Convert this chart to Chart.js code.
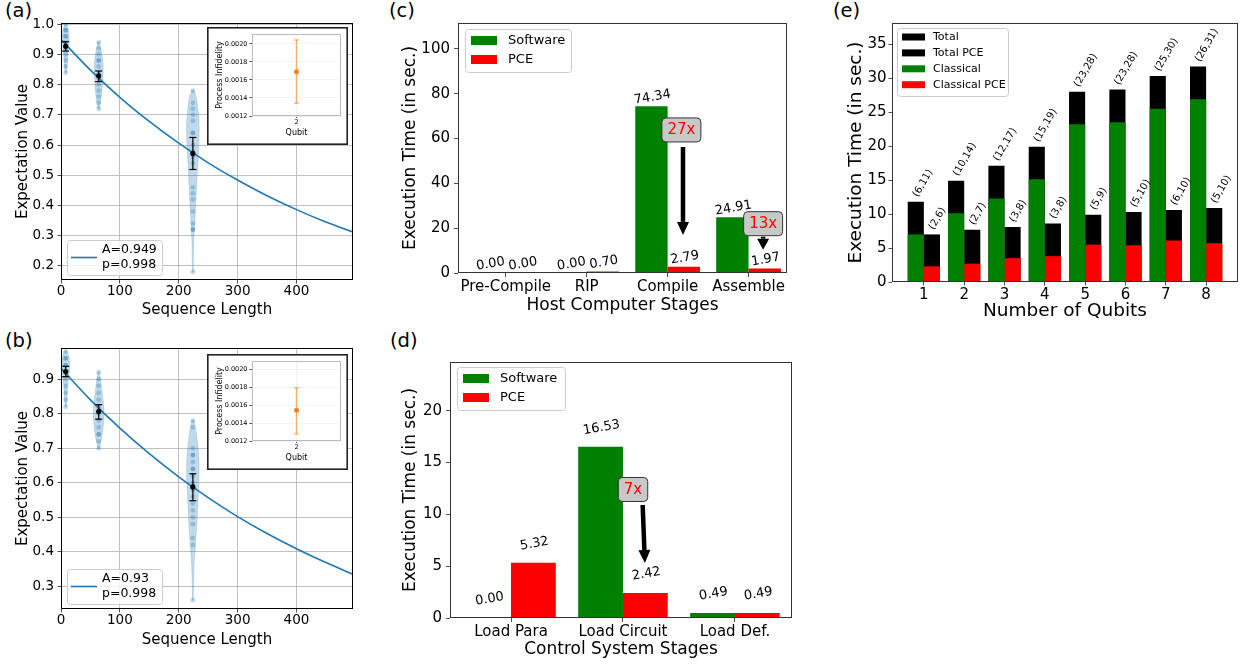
<!DOCTYPE html>
<html>
<head>
<meta charset="utf-8">
<title>RB benchmarks and PCE execution times</title>
<script src="https://cdn.jsdelivr.net/npm/chart.js@4.4.1/dist/chart.umd.min.js"></script>
<style>
  html, body { margin: 0; padding: 0; background: #fff; }
  body { position: relative; width: 1244px; height: 666px; overflow: hidden; font-family: 'DejaVu Sans', sans-serif; }
  canvas { position: absolute; }
  .inset { background: #fff; }
  .tag { position: absolute; font-size: 19.5px; line-height: 1; color: #000; }
</style>
</head>
<body>
<div class="tag" style="left:5px;top:1px">(a)</div>
<div class="tag" style="left:5px;top:331px">(b)</div>
<div class="tag" style="left:389px;top:1px">(c)</div>
<div class="tag" style="left:390px;top:331px">(d)</div>
<div class="tag" style="left:833px;top:1px">(e)</div>

<canvas id="chartA" width="360" height="320" style="left:0;top:0"></canvas>
<canvas id="chartB" width="360" height="320" style="left:0;top:330px"></canvas>
<canvas id="insetA" class="inset" width="141" height="118" style="left:207px;top:27px"></canvas>
<canvas id="insetB" class="inset" width="141" height="116" style="left:207px;top:354px"></canvas>
<canvas id="chartC" width="395" height="320" style="left:400px;top:0"></canvas>
<canvas id="chartD" width="400" height="336" style="left:400px;top:330px"></canvas>
<canvas id="chartE" width="404" height="325" style="left:840px;top:0"></canvas>

<script>
// ---- (a) / (b): randomized benchmarking ----
const seqLengths = [8, 64, 224];
const fitX = [0, 50, 100, 150, 200, 250, 300, 350, 400, 450, 496];
const fitA = [0.949, 0.848, 0.758, 0.678, 0.606, 0.541, 0.484, 0.432, 0.386, 0.345, 0.312];
const fitB = [0.931, 0.840, 0.758, 0.684, 0.617, 0.557, 0.502, 0.453, 0.409, 0.369, 0.335];

const meanA = [0.927, 0.829, 0.572];
const lowA = [0.911, 0.810, 0.519];
const highA = [0.942, 0.845, 0.625];
const meanB = [0.922, 0.806, 0.588];
const lowB = [0.907, 0.784, 0.548];
const highB = [0.937, 0.826, 0.626];

const samplesA = [
  [1.00, 0.98, 0.98, 0.96, 0.96, 0.94, 0.92, 0.90, 0.88, 0.86, 0.84],
  [0.94, 0.92, 0.90, 0.88, 0.88, 0.86, 0.84, 0.82, 0.80, 0.78, 0.76, 0.74, 0.72],
  [0.78, 0.74, 0.72, 0.70, 0.68, 0.64, 0.64, 0.60, 0.58, 0.56, 0.54, 0.46, 0.44, 0.42, 0.38, 0.34, 0.32, 0.32, 0.18]
];
const samplesB = [
  [0.98, 0.96, 0.96, 0.94, 0.94, 0.92, 0.90, 0.88, 0.86, 0.84, 0.82],
  [0.92, 0.90, 0.88, 0.86, 0.84, 0.82, 0.80, 0.78, 0.76, 0.74, 0.74, 0.72, 0.70],
  [0.78, 0.76, 0.70, 0.68, 0.68, 0.66, 0.64, 0.64, 0.62, 0.60, 0.58, 0.56, 0.54, 0.52, 0.50, 0.48, 0.44, 0.42, 0.26]
];

// violin outlines: levels and half widths (in sequence-length units)
const violinLevelsA = [
  [0.84, 0.86, 0.88, 0.90, 0.92, 0.94, 0.96, 0.98, 1.00],
  [0.72, 0.74, 0.76, 0.78, 0.80, 0.82, 0.84, 0.86, 0.88, 0.90, 0.92, 0.94],
  [0.18, 0.22, 0.26, 0.30, 0.34, 0.38, 0.42, 0.46, 0.50, 0.54, 0.58, 0.62, 0.66, 0.70, 0.74, 0.76, 0.78]
];
const violinWidthsA = [
  [0.8, 2.0, 2.8, 3.5, 4.3, 5.2, 5.6, 4.8, 1.5],
  [1.0, 3.0, 4.5, 5.5, 6.5, 7.3, 7.6, 7.6, 7.0, 5.5, 3.5, 1.2],
  [0.6, 0.9, 1.2, 2.0, 3.3, 4.3, 5.3, 6.3, 7.3, 8.3, 9.4, 10.4, 10.6, 9.6, 7.4, 5.4, 1.8]
];
const violinLevelsB = [
  [0.82, 0.84, 0.86, 0.88, 0.90, 0.92, 0.94, 0.96, 0.98],
  [0.70, 0.72, 0.74, 0.76, 0.78, 0.80, 0.82, 0.84, 0.86, 0.88, 0.90, 0.92],
  [0.26, 0.30, 0.34, 0.38, 0.42, 0.46, 0.50, 0.54, 0.58, 0.62, 0.66, 0.70, 0.74, 0.78]
];
const violinWidthsB = [
  [0.8, 1.8, 2.5, 3.2, 4.5, 6.0, 6.8, 6.2, 2.5],
  [1.2, 3.8, 6.0, 7.5, 8.5, 9.0, 8.6, 7.5, 6.0, 4.5, 3.0, 1.2],
  [0.6, 1.0, 1.6, 2.6, 4.4, 6.0, 7.4, 8.5, 9.5, 10.4, 10.4, 9.0, 6.0, 1.8]
];

const seqTicks = [0, 100, 200, 300, 400];
const expTicksA = [0.2, 0.3, 0.4, 0.5, 0.6, 0.7, 0.8, 0.9, 1.0];
const expTicksB = [0.3, 0.4, 0.5, 0.6, 0.7, 0.8, 0.9];

// insets: process infidelity of qubit 2
const insetQubit = 2;
const infidelityA = { mean: 0.001692, low: 0.001341, high: 0.002044 };
const infidelityB = { mean: 0.001541, low: 0.001278, high: 0.001792 };
const infTicks = [0.0012, 0.0014, 0.0016, 0.0018, 0.0020];

// ---- (c) host computer stages ----
const hostStages = ['Pre-Compile', 'RIP', 'Compile', 'Assemble'];
const hostSoftware = [0.00, 0.00, 74.34, 24.91];
const hostPCE = [0.00, 0.70, 2.79, 1.97];
const hostTicks = [0, 20, 40, 60, 80, 100];

// ---- (d) control system stages ----
const ctrlStages = ['Load Para', 'Load Circuit', 'Load Def.'];
const ctrlSoftware = [0.00, 16.53, 0.49];
const ctrlPCE = [5.32, 2.42, 0.49];
const ctrlTicks = [0, 5, 10, 15, 20];

// ---- (e) number of qubits ----
const qubits = [1, 2, 3, 4, 5, 6, 7, 8];
const totalTime = [11.8, 14.9, 17.1, 19.9, 28.0, 28.3, 30.3, 31.7];
const classicalTime = [7.0, 10.1, 12.3, 15.1, 23.2, 23.5, 25.5, 26.9];
const totalPCETime = [7.0, 7.7, 8.1, 8.6, 9.9, 10.3, 10.6, 10.9];
const classicalPCETime = [2.3, 2.7, 3.5, 3.8, 5.5, 5.4, 6.1, 5.7];
const totalTags = ['(6,11)', '(10,14)', '(12,17)', '(15,19)', '(23,28)', '(23,28)', '(25,30)', '(26,31)'];
const pceTags = ['(2,6)', '(2,7)', '(3,8)', '(3,8)', '(5,9)', '(5,10)', '(6,10)', '(5,10)'];
const qubitTicks = [0, 5, 10, 15, 20, 25, 30, 35];

Chart.defaults.font.family = "'DejaVu Sans', sans-serif";
Chart.defaults.color = '#000';
Chart.defaults.animation = false;
Chart.defaults.responsive = false;
Chart.defaults.events = [];
Chart.defaults.plugins.legend.display = false;
Chart.defaults.plugins.tooltip.enabled = false;

const FONT = "'DejaVu Sans', sans-serif";

function axis(o) {
  return {
    type: 'linear', min: o.min, max: o.max, offset: false, stacked: o.stacked || false,
    afterBuildTicks: s => { s.ticks = o.ticks.map(v => ({ value: v })); },
    afterFit: s => { if (s.isHorizontal()) s.height = o.size; else s.width = o.size; },
    grid: { drawOnChartArea: !!o.grid, color: o.grid || '#b0b0b0', lineWidth: 0.8, tickColor: '#222', tickLength: o.tick, offset: false },
    border: { display: false },
    ticks: { autoSkip: false, maxRotation: 0, padding: o.pad, font: { size: o.font }, callback: o.fmt },
    title: { display: true, text: o.title, font: { size: o.titleFont }, padding: o.titlePad }
  };
}

function framePlugin(color, outer) {
  return {
    id: 'frame',
    afterDatasetsDraw(chart) {
      const { ctx, chartArea: a } = chart;
      ctx.save();
      ctx.strokeStyle = color;
      ctx.lineWidth = 1;
      ctx.strokeRect(a.left + 0.5, a.top + 0.5, a.right - a.left - 1, a.bottom - a.top - 1);
      ctx.restore();
    },
    afterDraw(chart) {
      if (!outer) return;
      const { ctx, width, height } = chart;
      ctx.save();
      ctx.strokeStyle = '#222';
      ctx.lineWidth = 1.6;
      ctx.strokeRect(0.8, 0.8, width - 1.6, height - 1.6);
      ctx.restore();
    }
  };
}

function legendPlugin(L) {
  return {
    id: 'boxLegend',
    afterDraw(chart) {
      const { ctx, chartArea: a } = chart;
      const x0 = a.left + L.left;
      const y0 = L.bottom !== undefined ? a.bottom - L.bottom - L.h : a.top + L.top;
      ctx.save();
      ctx.beginPath();
      ctx.roundRect(x0 + 0.5, y0 + 0.5, L.w, L.h, 3);
      ctx.fillStyle = 'rgba(255,255,255,0.8)';
      ctx.fill();
      ctx.strokeStyle = '#cccccc';
      ctx.lineWidth = 1;
      ctx.stroke();
      ctx.font = L.font + 'px ' + FONT;
      ctx.textBaseline = 'middle';
      ctx.textAlign = 'left';
      L.items.forEach((di, k) => {
        const ds = chart.data.datasets[di];
        const cy = y0 + L.row0 + k * L.rowH;
        if (L.sample === 'line') {
          ctx.strokeStyle = ds.borderColor;
          ctx.lineWidth = ds.borderWidth;
          ctx.beginPath();
          ctx.moveTo(x0 + L.sx, cy);
          ctx.lineTo(x0 + L.sx + L.sw, cy);
          ctx.stroke();
        } else {
          ctx.fillStyle = ds.backgroundColor;
          ctx.fillRect(x0 + L.sx, cy - L.sh / 2, L.sw, L.sh);
        }
        ctx.fillStyle = '#000';
        const lines = ds.label.split('\n');
        lines.forEach((t, j) => ctx.fillText(t, x0 + L.tx, cy + (j - (lines.length - 1) / 2) * (L.gap || 0)));
      });
      ctx.restore();
    }
  };
}

function labelPlugin(sets, st) {
  return {
    id: 'barLabels',
    afterDatasetsDraw(chart) {
      const ctx = chart.ctx;
      ctx.save();
      ctx.font = st.font + 'px ' + FONT;
      ctx.fillStyle = '#000';
      ctx.textAlign = st.align;
      ctx.textBaseline = st.baseline;
      sets.forEach(s => {
        chart.getDatasetMeta(s.ds).data.forEach((bar, i) => {
          ctx.save();
          ctx.translate(bar.x + st.dx, bar.y - st.dy);
          ctx.rotate(-st.angle * Math.PI / 180);
          ctx.fillText(s.text[i], 0, 0);
          ctx.restore();
        });
      });
      ctx.restore();
    }
  };
}

function notePlugin(n) {
  return {
    id: 'notes',
    afterDatasetsDraw(chart) {
      const { ctx, scales: { x, y } } = chart;
      ctx.save();
      n.arrows.forEach(a => {
        const x1 = x.getPixelForValue(a.from[0]), y1 = y.getPixelForValue(a.from[1]);
        const x2 = x.getPixelForValue(a.to[0]), y2 = y.getPixelForValue(a.to[1]);
        const len = Math.hypot(x2 - x1, y2 - y1);
        const ux = (x2 - x1) / len, uy = (y2 - y1) / len;
        const hl = Math.min(13, len * 0.85), hw = 6;
        const bx = x2 - ux * hl, by = y2 - uy * hl;
        ctx.strokeStyle = '#000';
        ctx.lineWidth = 4.5;
        ctx.beginPath();
        ctx.moveTo(x1, y1);
        ctx.lineTo(bx, by);
        ctx.stroke();
        ctx.fillStyle = '#000';
        ctx.beginPath();
        ctx.moveTo(x2, y2);
        ctx.lineTo(bx - uy * hw, by + ux * hw);
        ctx.lineTo(bx + uy * hw, by - ux * hw);
        ctx.closePath();
        ctx.fill();
      });
      ctx.font = '15px ' + FONT;
      ctx.textAlign = 'center';
      ctx.textBaseline = 'middle';
      n.boxes.forEach(b => {
        const cx = x.getPixelForValue(b.at[0]), cy = y.getPixelForValue(b.at[1]);
        const w = ctx.measureText(b.text).width + 11, h = 24;
        ctx.beginPath();
        ctx.roundRect(cx - w / 2, cy - h / 2, w, h, 4);
        ctx.fillStyle = '#c8c8c8';
        ctx.fill();
        ctx.strokeStyle = '#333';
        ctx.lineWidth = 1;
        ctx.stroke();
        ctx.fillStyle = '#ff0000';
        ctx.fillText(b.text, cx, cy + 0.5);
      });
      ctx.restore();
    }
  };
}

function violinPoints(c, levels, widths) {
  const right = levels.map((v, i) => ({ x: c + widths[i], y: v }));
  const left = levels.map((v, i) => ({ x: c - widths[i], y: v })).reverse();
  return [{ x: c, y: levels[0] }, ...right, { x: c, y: levels[levels.length - 1] }, ...left];
}

function errorBarPoints(xs, lo, hi) {
  const pts = [];
  xs.forEach((x, i) => pts.push({ x, y: lo[i] }, { x, y: hi[i] }, { x, y: null }));
  return pts;
}

function rbChart(id, d) {
  const datasets = [];
  seqLengths.forEach((c, g) => {
    datasets.push({
      type: 'line', data: violinPoints(c, d.levels[g], d.widths[g]), fill: 'shape',
      backgroundColor: 'rgba(31,119,180,0.28)', borderColor: 'rgba(31,119,180,0.3)', borderWidth: 0.6,
      pointRadius: 0, tension: 0.3, order: 5
    });
    datasets.push({
      type: 'scatter', data: d.samples[g].map(v => ({ x: c, y: v })),
      backgroundColor: 'rgba(31,119,180,0.3)', borderWidth: 0, pointRadius: 2.4, order: 4
    });
  });
  datasets.push({
    type: 'line', label: d.label, data: fitX.map((x, i) => ({ x, y: d.fit[i] })),
    borderColor: '#1f77b4', borderWidth: 1.6, pointRadius: 0, cubicInterpolationMode: 'monotone', fill: false, order: 3
  });
  const fitIndex = datasets.length - 1;
  datasets.push({
    type: 'line', data: errorBarPoints(seqLengths, d.low, d.high), borderColor: '#000', borderWidth: 1.2,
    pointStyle: 'line', pointRadius: 3.5, pointBorderColor: '#000', pointBorderWidth: 1.2, fill: false, order: 1
  });
  datasets.push({
    type: 'scatter', data: seqLengths.map((x, i) => ({ x, y: d.mean[i] })),
    backgroundColor: '#000', borderWidth: 0, pointRadius: 2.6, order: 0
  });

  return new Chart(document.getElementById(id), {
    type: 'scatter',
    data: { datasets },
    options: {
      layout: { padding: { top: d.padTop, right: 7, left: 0, bottom: 0 } },
      scales: {
        x: axis({ min: 0, max: 496, ticks: seqTicks, size: d.xSize, grid: '#b0b0b0', tick: 3.5, pad: 0, font: 13.5,
          fmt: v => String(v), title: 'Sequence Length', titleFont: 15, titlePad: { top: 0, bottom: 1.3 } }),
        y: axis({ min: d.yMin, max: d.yMax, ticks: d.yTicks, size: 61, grid: '#b0b0b0', tick: 3.5, pad: 3.5, font: 13.5,
          fmt: v => v.toFixed(1), title: 'Expectation Value', titleFont: 15, titlePad: { top: 13.9, bottom: 0 } })
      }
    },
    plugins: [
      framePlugin('#000', false),
      legendPlugin({ items: [fitIndex], left: 6, bottom: 5, w: 95, h: 35, row0: 17.5, rowH: 0, sample: 'line',
        sx: 4, sw: 26, tx: 35, font: 12.5, gap: 15 })
    ]
  });
}

function insetChart(id, v, yMax) {
  return new Chart(document.getElementById(id), {
    type: 'scatter',
    data: {
      datasets: [
        { type: 'line', data: [{ x: insetQubit, y: v.low }, { x: insetQubit, y: v.high }],
          borderColor: 'rgba(255,127,14,0.6)', borderWidth: 1.5, pointStyle: 'line', pointRadius: 2.5,
          pointBorderColor: 'rgba(255,127,14,0.6)', pointBorderWidth: 1.2, fill: false, order: 1 },
        { data: [{ x: insetQubit, y: v.mean }], backgroundColor: '#ff7f0e', borderWidth: 0, pointRadius: 2.5, order: 0 }
      ]
    },
    options: {
      layout: { padding: { top: 7, right: 7, left: 0, bottom: 0 } },
      scales: {
        x: axis({ min: 1, max: 3, ticks: [insetQubit], size: 29, grid: '#f0f0f0', tick: 2, pad: 0, font: 6.5,
          fmt: v => String(v), title: 'Qubit', titleFont: 8, titlePad: { top: 0, bottom: 6.9 } }),
        y: axis({ min: 0.0012, max: yMax, ticks: infTicks, size: 45, grid: '#f0f0f0', tick: 2.5, pad: 2, font: 6.5,
          fmt: v => v.toFixed(4), title: 'Process Infidelity', titleFont: 8, titlePad: { top: 8, bottom: 0 } })
      }
    },
    plugins: [framePlugin('#bbbbbb', true)]
  });
}

function xy(xs, ys) { return xs.map((x, i) => ({ x, y: ys[i] })); }

function stageChart(id, d) {
  const idx = d.stages.map((_, i) => i);
  return new Chart(document.getElementById(id), {
    type: 'bar',
    data: {
      datasets: [
        { label: 'Software', data: xy(idx, d.software), backgroundColor: '#008000' },
        { label: 'PCE', data: xy(idx, d.pce), backgroundColor: '#ff0000' }
      ]
    },
    options: {
      layout: { padding: { top: d.padTop, right: 8, left: 0, bottom: 0 } },
      datasets: { bar: { categoryPercentage: 0.8, barPercentage: 1 } },
      scales: {
        x: axis({ min: d.xMin, max: d.xMax, ticks: idx, size: d.xSize, tick: 4, pad: d.xPad, font: 15,
          fmt: v => d.stages[v] ?? '', title: d.title, titleFont: 17, titlePad: { top: 0, bottom: d.titlePad } }),
        y: axis({ min: 0, max: d.yMax, ticks: d.yTicks, size: d.ySize, tick: 4, pad: 4, font: 15,
          fmt: v => String(v), title: 'Execution Time (in sec.)', titleFont: 17, titlePad: { top: 0, bottom: 0 } })
      }
    },
    plugins: [
      framePlugin('#333', false),
      labelPlugin([
        { ds: 0, text: d.software.map(v => v.toFixed(2)) },
        { ds: 1, text: d.pce.map(v => v.toFixed(2)) }
      ], { font: 13, angle: 10, align: 'center', baseline: 'middle', dx: 1, dy: d.labelDy }),
      notePlugin(d.notes),
      legendPlugin({ items: [0, 1], left: 7, top: d.legTop, w: d.legW, h: 43, row0: 11.5, rowH: 19, sample: 'box',
        sx: 6, sw: 26, sh: 9, tx: 43, font: 13 })
    ]
  });
}

rbChart('chartA', {
  label: 'A=0.949\np=0.998', fit: fitA, mean: meanA, low: lowA, high: highA, samples: samplesA,
  levels: violinLevelsA, widths: violinWidthsA, yMin: 0.153, yMax: 1.004, yTicks: expTicksA, padTop: 23, xSize: 40
});
rbChart('chartB', {
  label: 'A=0.93\np=0.998', fit: fitB, mean: meanB, low: lowB, high: highB, samples: samplesB,
  levels: violinLevelsB, widths: violinWidthsB, yMin: 0.2346, yMax: 0.99, yTicks: expTicksB, padTop: 18, xSize: 41
});
insetChart('insetA', infidelityA, 0.00211);
insetChart('insetB', infidelityB, 0.00209);

stageChart('chartC', {
  stages: hostStages, software: hostSoftware, pce: hostPCE, yTicks: hostTicks, yMax: 111.5,
  xMin: -0.59, xMax: 3.475, padTop: 23, xSize: 47, ySize: 58, xPad: 1.5, titlePad: 4,
  title: 'Host Computer Stages', labelDy: 9, legTop: 6, legW: 106,
  notes: {
    boxes: [{ text: '27x', at: [2.17, 63.8] }, { text: '13x', at: [3.18, 22.0] }],
    arrows: [{ from: [2.19, 56.2], to: [2.19, 17.0] }, { from: [3.18, 16.2], to: [3.18, 10.4] }]
  }
});
stageChart('chartD', {
  stages: ctrlStages, software: ctrlSoftware, pce: ctrlPCE, yTicks: ctrlTicks, yMax: 24.7,
  xMin: -0.545, xMax: 2.51, padTop: 32, xSize: 48, ySize: 50, xPad: 1, titlePad: 6,
  title: 'Control System Stages', labelDy: 19, legTop: 5, legW: 108,
  notes: {
    boxes: [{ text: '7x', at: [1.09, 12.4] }],
    arrows: [{ from: [1.176, 10.9], to: [1.196, 5.3] }]
  }
});

new Chart(document.getElementById('chartE'), {
  type: 'bar',
  data: {
    datasets: [
      { label: 'Total', data: xy(qubits, totalTime), backgroundColor: '#000000', stack: 'classic', order: 2 },
      { label: 'Total PCE', data: xy(qubits, totalPCETime), backgroundColor: '#000000', stack: 'pce', order: 2 },
      { label: 'Classical', data: xy(qubits, classicalTime), backgroundColor: '#008000', stack: 'classic', order: 1 },
      { label: 'Classical PCE', data: xy(qubits, classicalPCETime), backgroundColor: '#ff0000', stack: 'pce', order: 1 }
    ]
  },
  options: {
    layout: { padding: { top: 23, right: 6, left: 0, bottom: 0 } },
    datasets: { bar: { categoryPercentage: 0.8, barPercentage: 1 } },
    scales: {
      x: axis({ min: 0.21, max: 8.79, ticks: qubits, size: 43, tick: 3.5, pad: 1, font: 15, stacked: true,
        fmt: v => String(v), title: 'Number of Qubits', titleFont: 18.5, titlePad: { top: 0, bottom: 3 } }),
      y: axis({ min: 0, max: 38.1, ticks: qubitTicks, size: 52, tick: 3.5, pad: 2, font: 15,
        fmt: v => String(v), title: 'Execution Time (in sec.)', titleFont: 18.5, titlePad: { top: 5, bottom: 0 } })
    }
  },
  plugins: [
    framePlugin('#333', false),
    labelPlugin([{ ds: 0, text: totalTags }, { ds: 1, text: pceTags }],
      { font: 10, angle: 60, align: 'left', baseline: 'bottom', dx: 4, dy: 3 }),
    legendPlugin({ items: [0, 1, 2, 3], left: 5, top: 5, w: 111, h: 68, row0: 9, rowH: 15.9, sample: 'box',
      sx: 5, sw: 23, sh: 7, tx: 36, font: 11 })
  ]
});
</script>
</body>
</html>
